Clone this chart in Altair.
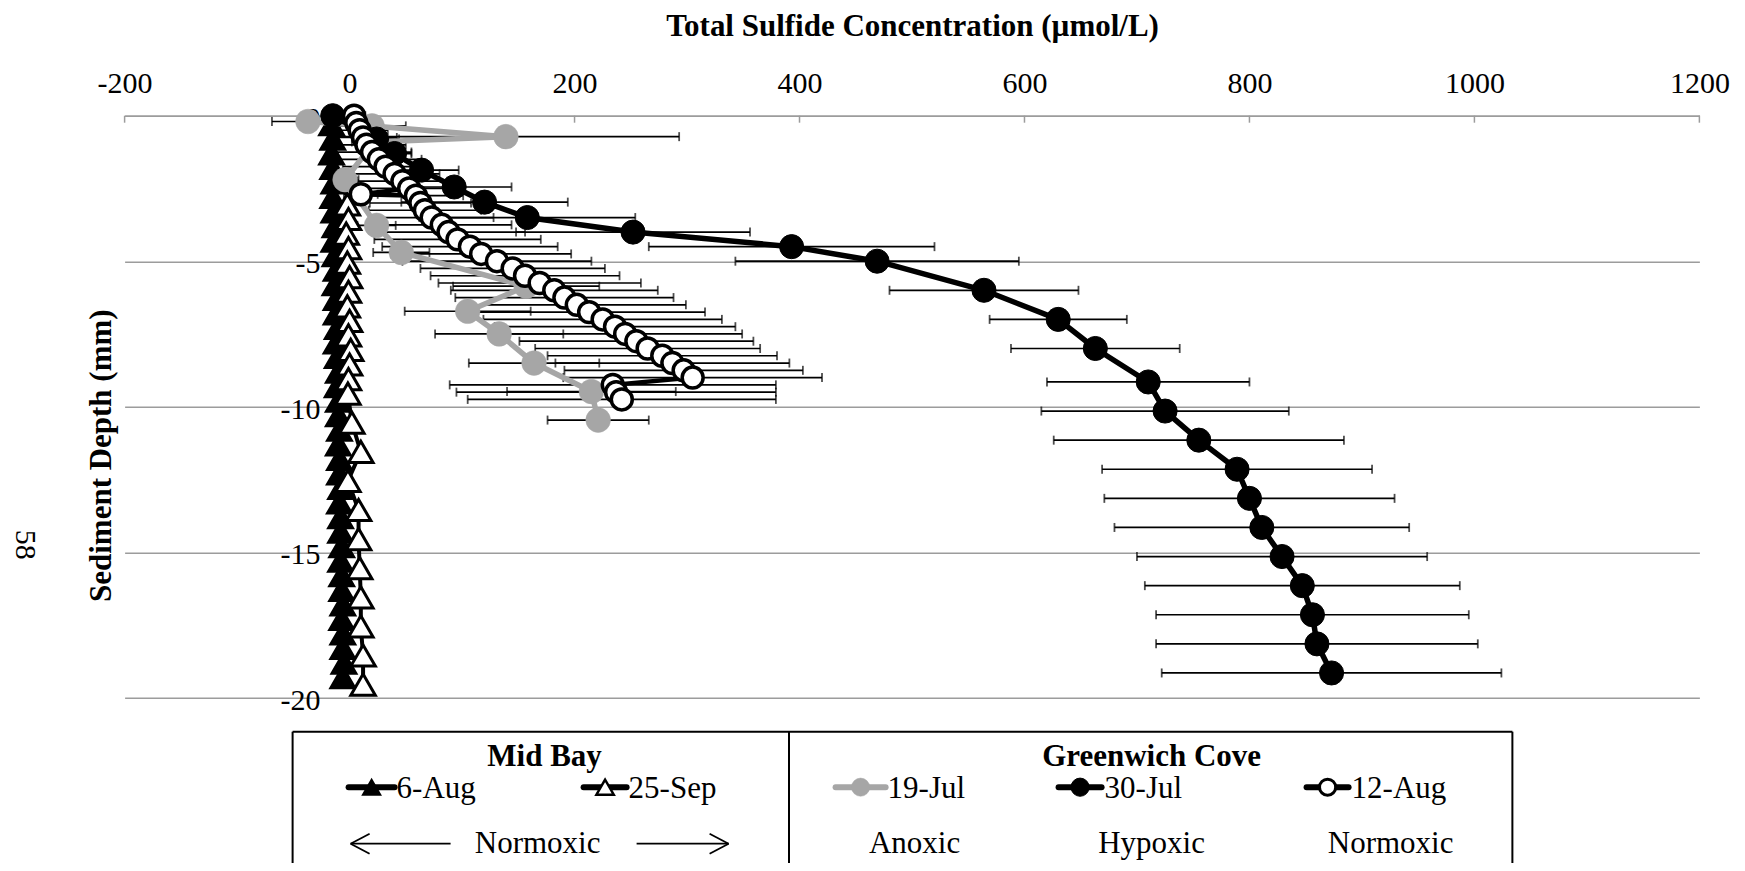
import altair as alt
import pandas as pd

FONT = "Liberation Serif"
FS = 30      # tick labels
FL = 31      # legend and titles
GRAY = "#a6a6a6"
GRID = "#9c9c9c"

# ---------------- axis ticks ----------------
x_ticks = [-200, 0, 200, 400, 600, 800, 1000, 1200]
y_ticks = [0, -5, -10, -15, -20]
y_tick_labels = ["0", "-5", "-10", "-15", "-20"]

# ---------------- Mid Bay, 6-Aug (black triangles) ----------------
aug6_depth = [-0.3, -0.8, -1.3, -1.8, -2.3, -2.8, -3.3, -3.8, -4.3, -4.8,
              -5.3, -5.8, -6.3, -6.8, -7.3, -7.8, -8.3, -8.8, -9.3, -9.8,
              -10.3, -10.8, -11.3, -11.8, -12.3, -12.8, -13.3, -13.8, -14.3, -14.8,
              -15.3, -15.8, -16.3, -16.8, -17.3, -17.8, -18.3, -18.8, -19.3]
aug6_conc = [-16, -15, -16, -15, -14, -15, -14, -13, -14, -13,
             -12, -13, -12, -12, -11, -12, -11, -10, -11, -10,
             -10, -9, -10, -9, -9, -8, -9, -8, -8, -7,
             -8, -7, -7, -6, -7, -6, -6, -5, -6]

# ---------------- Mid Bay, 25-Sep (white triangles) ----------------
sep25_depth = [-3.05, -3.55, -4.05, -4.55, -5.05, -5.55, -6.05, -6.55, -7.05, -7.55,
               -8.05, -8.55, -9.05, -9.55, -10.55, -11.55, -12.55, -13.55, -14.55,
               -15.55, -16.55, -17.55, -18.55, -19.55]
sep25_conc = [-2, -1, -3, -1, -2, 0, -1, -2, 0, -1,
              1, 0, -1, -1.5, 2, 10, -1.5, 8, 8,
              9, 10, 10, 12, 12]

# ---------------- Greenwich Cove, 19-Jul (gray circles) ----------------
jul19_depth = [-0.2, -0.35, -0.72, -0.9, -2.2, -3.77, -4.7, -5.86, -6.72, -7.5, -8.5, -9.48, -10.46]
jul19_conc = [-37, 20, 139, 22, -4, 24, 46, 157, 105, 133, 164, 215, 221]
jul19_err = [32, 30, 154, 20, 12, 17, 25, 65, 56, 57, 58, 75, 45]

# ---------------- Greenwich Cove, 30-Jul (black circles) ----------------
jul30_depth = [0, -0.8, -1.3, -1.87, -2.45, -2.97, -3.5, -4.0, -4.5, -5.0, -6.0, -7.0, -8.0,
               -9.15, -10.15, -11.15, -12.15, -13.15, -14.15, -15.15, -16.15, -17.15, -18.15, -19.15]
jul30_conc = [-15, 24, 40, 64, 93, 120, 158, 252, 393, 469, 564, 630, 663,
              710, 725, 755, 789, 800, 811, 829, 847, 856, 860, 873]
jul30_err = [8, 20, 15, 33, 51, 74, 96, 104, 127, 126, 84, 61, 75,
             90, 110, 129, 120, 129, 131, 129, 140, 139, 143, 151]

# ---------------- Greenwich Cove, 12-Aug (white circles) ----------------
aug12_depth = [0, -0.25, -0.5, -0.75, -1.0, -1.25, -1.5, -1.75, -2.0, -2.25,
               -2.5, -2.7, -2.75, -3.0, -3.25, -3.5, -3.75, -4.0, -4.25, -4.5,
               -4.75, -5.0, -5.25, -5.5, -5.75, -6.0, -6.25, -6.5, -6.75, -7.0,
               -7.25, -7.5, -7.75, -8.0, -8.25, -8.5, -8.75, -9.0, -9.25, -9.5, -9.75]
aug12_conc = [4, 6, 9, 12, 15, 20, 26, 32, 40, 47,
              53, 10, 59, 63, 67, 73, 82, 88, 96, 107,
              117, 131, 145, 156, 169, 182, 191, 202, 213, 225,
              236, 245, 255, 265, 278, 287, 297, 305, 234, 237, 242]
aug12_err = [10, 20, 25, 30, 35, 35, 38, 38, 40, 40,
             42, 15, 42, 45, 50, 55, 62, 68, 74, 78,
             80, 84, 82, 84, 90, 92, 97, 97, 103, 106,
             107, 104, 104, 100, 102, 104, 106, 115, 145, 142, 137]


def series_df(depth, conc, err=None):
    df = pd.DataFrame({"d": depth, "v": conc})
    df["i"] = list(range(len(df)))
    if err is not None:
        df["lo"] = [c - e for c, e in zip(conc, err)]
        df["hi"] = [c + e for c, e in zip(conc, err)]
    return df


aug6 = series_df(aug6_depth, aug6_conc)
sep25 = series_df(sep25_depth, sep25_conc)
jul19 = series_df(jul19_depth, jul19_conc, jul19_err)
jul30 = series_df(jul30_depth, jul30_conc, jul30_err)
aug12 = series_df(aug12_depth, aug12_conc, aug12_err)

xsc = alt.Scale(domain=[-200, 1200], nice=False, zero=False)
ysc = alt.Scale(domain=[-20, 0], nice=False, zero=False)
xax = alt.Axis(orient="top", values=x_ticks, grid=False, ticks=False, domain=True,
               domainColor=GRID, domainWidth=1.5, labelFont=FONT, labelFontSize=FS,
               labelColor="black", labelPadding=17, labelFlush=False, labelOverlap=False,
               labelExpr="datum.value < 0 ? '-' + toString(-datum.value) : toString(datum.value)",
               title=None)
yax = alt.Axis(values=y_ticks, grid=True, gridColor=GRID, gridWidth=1.5, labels=False,
               ticks=False, domain=False, title=None)


def X(field):
    return alt.X(field, type="quantitative", scale=xsc, axis=xax)


def Y(field="d"):
    return alt.Y(field, type="quantitative", scale=ysc, axis=yax)


one = pd.DataFrame({"k": [0]})
layers = []

# top-axis inward tick marks
tick_df = pd.DataFrame({"v": x_ticks})
layers.append(alt.Chart(tick_df).mark_rule(color=GRID, strokeWidth=1.5).encode(
    x=X("v"), y=alt.value(0), y2=alt.value(7)))

# y tick labels placed at x = 0 (vertical axis crosses at zero)
ylab_df = pd.DataFrame({"d": y_ticks, "lab": y_tick_labels})
layers.append(alt.Chart(ylab_df).mark_text(align="right", baseline="middle", dx=-29, dy=3,
                                           font=FONT, fontSize=FS, color="black").encode(
    x=alt.datum(0), y=Y("d"), text="lab:N"))

# error bars
for df in (jul19, jul30, aug12):
    layers.append(alt.Chart(df).mark_rule(color="black", strokeWidth=1.7).encode(
        x=X("lo"), x2="hi", y=Y()))
    for f in ("lo", "hi"):
        layers.append(alt.Chart(df).mark_tick(orient="vertical", color="black", size=9,
                                              thickness=1.8).encode(x=X(f), y=Y()))


def line(df, color, width):
    return alt.Chart(df).mark_line(color=color, strokeWidth=width, strokeJoin="round").encode(
        x=X("v"), y=Y(), order=alt.Order("i:Q"))


def pts(df, shape, size, fill, stroke, sw):
    return alt.Chart(df).mark_point(shape=shape, size=size, filled=True, fill=fill,
                                    stroke=stroke, strokeWidth=sw, opacity=1).encode(
        x=X("v"), y=Y())


# series (drawing order as in the original)
layers += [line(aug6, "black", 4), pts(aug6, "triangle-up", 600, "black", "black", 2.5)]
layers += [line(sep25, "black", 4), pts(sep25, "triangle-up", 600, "white", "black", 3)]
layers += [line(jul19, GRAY, 5.5), pts(jul19, "circle", 610, GRAY, GRAY, 0.5)]
layers += [line(jul30, "black", 5.5), pts(jul30, "circle", 580, "black", "black", 1)]
layers += [line(aug12, "black", 4.5), pts(aug12, "circle", 440, "white", "black", 3.5)]


def txt(s, x, y, size=FL, bold=False, align="center", baseline="alphabetic", angle=0):
    return alt.Chart(one).mark_text(text=s, font=FONT, fontSize=size,
                                    fontWeight="bold" if bold else "normal",
                                    align=align, baseline=baseline, angle=angle,
                                    color="black").encode(x=alt.value(x), y=alt.value(y))


def hrule(x1, x2, y, w=2, color="black", cap="butt"):
    return alt.Chart(one).mark_rule(color=color, strokeWidth=w, strokeCap=cap).encode(
        x=alt.value(x1), x2=alt.value(x2), y=alt.value(y))


def rule(x1, y1, x2, y2, w=2, color="black"):
    return alt.Chart(one).mark_rule(color=color, strokeWidth=w).encode(
        x=alt.value(x1), x2=alt.value(x2), y=alt.value(y1), y2=alt.value(y2))


def sym(x, y, shape, size, fill, stroke, sw):
    return alt.Chart(one).mark_point(shape=shape, size=size, filled=True, fill=fill,
                                     stroke=stroke, strokeWidth=sw, opacity=1).encode(
        x=alt.value(x), y=alt.value(y))


# titles
layers.append(txt("Total Sulfide Concentration (µmol/L)", 788, -89, bold=True, baseline="middle"))
layers.append(txt("Sediment Depth (mm)", -23, 340, bold=True, baseline="middle", angle=270))
layers.append(txt("58", -100, 429, size=FS, baseline="middle", angle=90))

# legend box
BT, BL, BD, BR, BB = 616, 168, 664.4, 1387.8, 770
layers.append(hrule(BL, BR, BT, w=2))
for xx in (BL, BD, BR):
    layers.append(rule(xx, BT, xx, BB, w=2))

# legend headings
layers.append(txt("Mid Bay", 420, 650, bold=True))
layers.append(txt("Greenwich Cove", 1027, 650, bold=True))

# legend entries
R2, R2T = 671.5, 682
entries = [
    (224, 270, 247, "triangle-up", 300, "black", "black", 2, "black", "6-Aug", 272),
    (459, 502, 480.5, "triangle-up", 300, "white", "black", 2.5, "black", "25-Sep", 504),
    (711, 761, 736, "circle", 330, GRAY, GRAY, 0.5, GRAY, "19-Jul", 763),
    (934, 977, 955.5, "circle", 330, "black", "black", 1, "black", "30-Jul", 980),
    (1182, 1224, 1203, "circle", 260, "white", "black", 3, "black", "12-Aug", 1227),
]
for x1, x2, xm, shp, sz, fl, st, sw, lc, lab, lx in entries:
    layers.append(hrule(x1, x2, R2, w=6, color=lc, cap="round"))
    layers.append(sym(xm, R2, shp, sz, fl, st, sw))
    layers.append(txt(lab, lx, R2T, align="left"))

# third row: oxygen status
R3, R3T = 728, 737
layers.append(hrule(226, 326, R3, w=1.8))
layers.append(rule(226, R3, 245, R3 - 10, w=1.8))
layers.append(rule(226, R3, 245, R3 + 10, w=1.8))
layers.append(txt("Normoxic", 413, R3T))
layers.append(hrule(512, 604, R3, w=1.8))
layers.append(rule(604, R3, 585, R3 - 10, w=1.8))
layers.append(rule(604, R3, 585, R3 + 10, w=1.8))
layers.append(txt("Anoxic", 790, R3T))
layers.append(txt("Hypoxic", 1027, R3T))
layers.append(txt("Normoxic", 1266, R3T))

chart = alt.layer(*layers).properties(
    width=1574.8, height=582,
    padding={"left": 116.6, "top": 107.7, "right": 36, "bottom": 165},
    autosize=alt.AutoSizeParams(type="none"),
    background="white",
).configure_view(stroke=None).configure_axis(labelFont=FONT)

chart.save("out.html", embed_options={"renderer": "svg", "actions": False})
